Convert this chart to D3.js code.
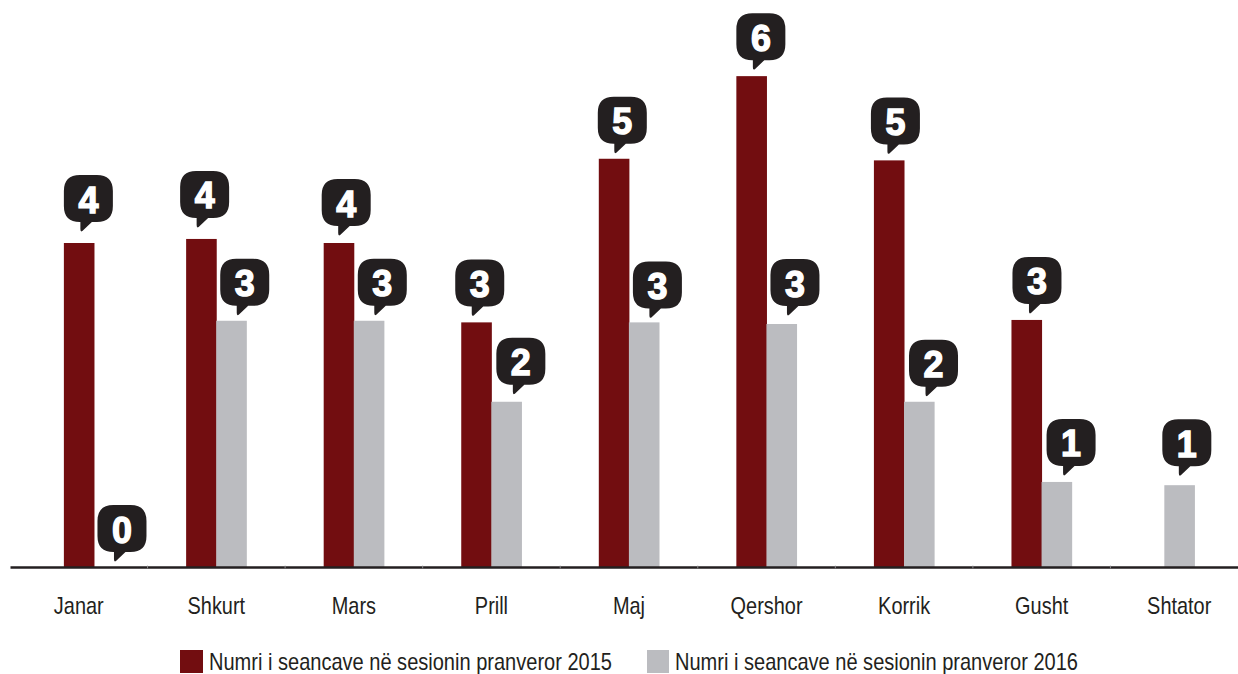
<!DOCTYPE html>
<html>
<head>
<meta charset="utf-8">
<script src="https://cdn.jsdelivr.net/npm/d3@7"></script>
<style>
  html, body { margin: 0; padding: 0; background: #fff; overflow: hidden; }
  svg { display: block; }
  text { font-family: "Liberation Sans", sans-serif; }
</style>
</head>
<body>
<svg id="chart"></svg>
<script>
const months = ['Janar', 'Shkurt', 'Mars', 'Prill', 'Maj', 'Qershor', 'Korrik', 'Gusht', 'Shtator'];
const values2015 = [4, 4.05, 4, 3.02, 5.04, 6.06, 5.02, 3.05, null];
const values2016 = [0, 3.04, 3.04, 2.04, 3.02, 3, 2.04, 1.05, 1.01];
const labels2015 = [4, 4, 4, 3, 5, 6, 5, 3, null];
const labels2016 = [0, 3, 3, 2, 3, 3, 2, 1, 1];
const legendNames = ['Numri i seancave në sesionin pranveror 2015', 'Numri i seancave në sesionin pranveror 2016'];

const width = 1238, height = 674;
const baseline = 567;
const barW = 30.6;
const red = '#720d10', grey = '#bbbcc0', dark = '#231f20';

// bubbles were placed by hand in the original, so each one gets its own nudge
const nudgeX2015 = [0, -6, -2, -6, -1, 0, -3, 1, 0];
const nudgeY2015 = [-68, -68, -64, -63, -62, -63, -63, -63, 0];
const nudgeX2016 = [3, 4, 4, 5, 4, 4, 5, 5, -2];
const nudgeY2016 = [-62, -62, -62, -64, -61, -65, -62, -63, -66];

const svg = d3.select('#chart').attr('width', width).attr('height', height);

const x = d3.scaleBand().domain(months).range([10, 1248]);
const y = d3.scaleLinear().domain([0, 7]).range([baseline, 0]);

// a month with only one real bar has it centred in the band
const rows = [];
months.forEach((m, i) => {
    const a = values2015[i], b = values2016[i];
    const mid = x(m) + x.bandwidth() / 2 + 0.4;
    if (a && b) {
        rows.push({ m, v: a, label: labels2015[i], color: red, left: mid - barW, dx: nudgeX2015[i], dy: nudgeY2015[i] });
        rows.push({ m, v: b, label: labels2016[i], color: grey, left: mid - 0.5, dx: nudgeX2016[i], dy: nudgeY2016[i] });
    } else if (a) {
        rows.push({ m, v: a, label: labels2015[i], color: red, left: mid - barW / 2, dx: nudgeX2015[i], dy: nudgeY2015[i] });
        rows.push({ m, v: b, label: labels2016[i], color: grey, left: mid + barW / 2, dx: nudgeX2016[i], dy: nudgeY2016[i] });
    } else {
        rows.push({ m, v: b, label: labels2016[i], color: grey, left: mid - barW / 2, dx: nudgeX2016[i], dy: nudgeY2016[i] });
    }
});

svg.append('g').selectAll('rect')
    .data(rows)
    .enter()
    .append('rect')
    .attr('x', d => d.left)
    .attr('y', d => y(d.v))
    .attr('width', barW)
    .attr('height', d => baseline - y(d.v))
    .attr('fill', d => d.color);

// Axis
const axis = svg.append('g')
    .attr('transform', `translate(0,${baseline})`)
    .call(d3.axisBottom(x).tickSize(0).tickPadding(30));
axis.select('.domain').attr('stroke', dark).attr('stroke-width', 2.6);
// no condensed face is installed, so the labels are squeezed by hand
axis.selectAll('text')
    .attr('fill', dark)
    .attr('transform', 'scale(0.83,1)')
    .style('font-family', '"Liberation Sans", sans-serif')
    .style('font-size', '24px');

// small notches between the months
svg.append('g').selectAll('line')
    .data(months.slice(1))
    .enter()
    .append('line')
    .attr('x1', d => x(d))
    .attr('x2', d => x(d))
    .attr('y1', baseline - 1.3)
    .attr('y2', baseline + 1.3)
    .attr('stroke', '#8a8a8c')
    .attr('stroke-width', 1);

// Speech bubbles
function bubblePath(w, h) {
    const r = 16;
    const p = d3.path();
    p.moveTo(r, 0);
    p.lineTo(w - r, 0);
    p.quadraticCurveTo(w, 0, w, r);
    p.lineTo(w, h - r);
    p.quadraticCurveTo(w, h, w - r, h);
    p.lineTo(28, h);
    p.lineTo(18.5, 56);
    p.quadraticCurveTo(16.5, 57.5, 16.5, 54);
    p.lineTo(16.5, h);
    p.lineTo(r, h);
    p.quadraticCurveTo(0, h, 0, h - r);
    p.lineTo(0, r);
    p.quadraticCurveTo(0, 0, r, 0);
    p.closePath();
    return p.toString();
}

const bubbles = svg.append('g').selectAll('g')
    .data(rows)
    .enter()
    .append('g')
    .attr('transform', d => `translate(${d.left + d.dx},${y(d.v) + d.dy})`);

bubbles.append('path')
    .attr('d', bubblePath(49, 47))
    .attr('fill', dark);

bubbles.append('text')
    .attr('transform', 'translate(24.5,37.5) scale(0.97,1)')
    .attr('text-anchor', 'middle')
    .attr('fill', '#fff')
    .attr('stroke', '#fff')
    .attr('stroke-width', 1.4)
    .style('font-size', '37px')
    .style('font-weight', 'bold')
    .text(d => d.label);

// Legend
const legend = svg.append('g').selectAll('g')
    .data(legendNames)
    .enter()
    .append('g')
    .attr('transform', (d, i) => `translate(${i === 0 ? 180 : 647},650)`);

legend.append('rect')
    .attr('width', (d, i) => i === 0 ? 23 : 22)
    .attr('height', 23)
    .attr('fill', (d, i) => i === 0 ? red : grey);

legend.append('text')
    .attr('x', (d, i) => i === 0 ? 29 : 28)
    .attr('y', 20)
    .attr('fill', dark)
    .attr('textLength', 403)
    .attr('lengthAdjust', 'spacingAndGlyphs')
    .style('font-size', '24px')
    .text(d => d);
</script>
</body>
</html>
